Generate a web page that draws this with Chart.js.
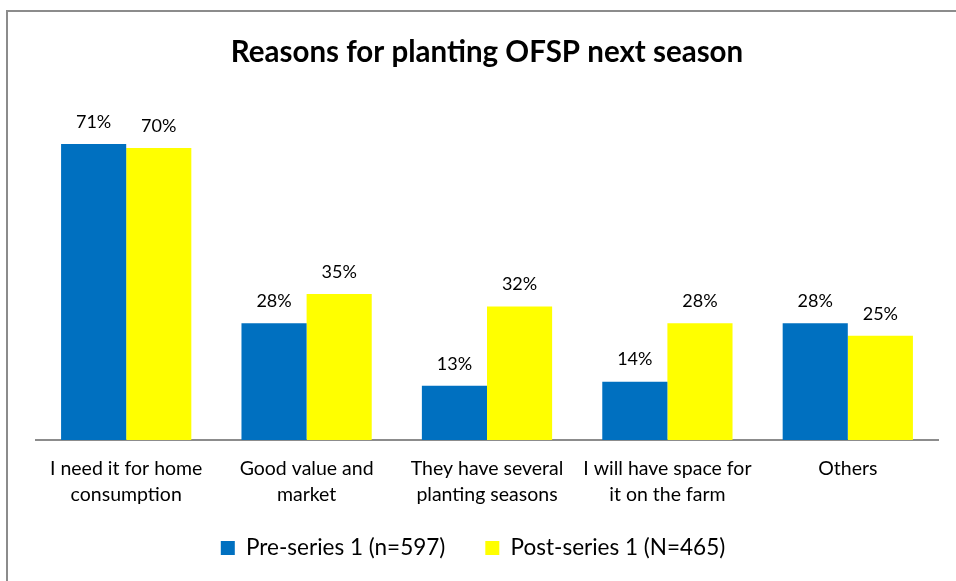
<!DOCTYPE html>
<html>
<head>
<meta charset="utf-8">
<script src="https://cdn.jsdelivr.net/npm/chart.js@4"></script>
<style>
  html, body { margin: 0; padding: 0; background: #ffffff; }
  #wrap { width: 956px; height: 581px; }
</style>
</head>
<body>
<div id="wrap"><canvas id="chart" width="956" height="581"></canvas></div>
<script>
// Survey answers: why respondents will plant OFSP next season (%)
const categories = [
  ["I need it for home", "consumption"],
  ["Good value and", "market"],
  ["They have several", "planting seasons"],
  ["I will have space for", "it on the farm"],
  ["Others"]
];
const preSeries = [71, 28, 13, 14, 28];
const postSeries = [70, 35, 32, 28, 25];
const seriesNames = ["Pre-series 1 (n=597)", "Post-series 1 (N=465)"];

const FONT = "Lato, 'Open Sans', sans-serif";
const LEGEND_GAP = 40;    // horizontal space between legend entries
const LEGEND_FONT = 22.5;
const LEGEND_MID_Y = 548; // vertical centre of the legend row
const LEGEND_SHIFT_X = -14;

// White page with a grey frame along the left and top edges
const framePlugin = {
  id: 'frame',
  beforeDraw(chart) {
    const ctx = chart.ctx;
    ctx.save();
    ctx.fillStyle = '#ffffff';
    ctx.fillRect(0, 0, chart.width, chart.height);
    ctx.strokeStyle = '#8c8c8c';
    ctx.lineWidth = 2;
    ctx.beginPath();
    ctx.moveTo(7, chart.height);
    ctx.lineTo(7, 11);
    ctx.lineTo(chart.width, 11);
    ctx.stroke();
    ctx.restore();
  }
};

// Wide gap between legend entries, with the legend row placed low on the page
const legendSpacing = {
  id: 'legendSpacing',
  beforeInit(chart) {
    const lg = chart.legend;
    if (!lg) return;
    const fit = lg.fit;
    lg.fit = function () {
      fit.call(this);
      this.height = 40;
    };
  },
  afterLayout(chart) {
    const lg = chart.legend;
    if (!lg) return;
    lg.top = LEGEND_MID_Y - LEGEND_FONT / 2 - LEGEND_GAP;
    lg.bottom = chart.height;
    lg.height = lg.bottom - lg.top;
    lg.left += LEGEND_SHIFT_X;
    lg.right += LEGEND_SHIFT_X;
  }
};

// Percentage label above every bar
const valueLabels = {
  id: 'valueLabels',
  afterDatasetsDraw(chart) {
    const ctx = chart.ctx;
    ctx.save();
    ctx.font = '18px ' + FONT;
    ctx.fillStyle = '#000000';
    ctx.textAlign = 'center';
    ctx.textBaseline = 'middle';
    chart.data.datasets.forEach((ds, di) => {
      chart.getDatasetMeta(di).data.forEach((bar, i) => {
        ctx.fillText(ds.data[i] + '%', bar.x, bar.y - 22);
      });
    });
    ctx.restore();
  }
};

new Chart(document.getElementById('chart'), {
  type: 'bar',
  data: {
    labels: categories,
    datasets: [
      { label: seriesNames[0], data: preSeries, backgroundColor: '#0070C0' },
      { label: seriesNames[1], data: postSeries, backgroundColor: '#FFFF00' }
    ]
  },
  options: {
    responsive: false,
    animation: false,
    devicePixelRatio: 1,
    layout: { padding: { left: 36, right: 18, top: 0, bottom: 17 } },
    datasets: { bar: { barPercentage: 1.0, categoryPercentage: 0.722 } },
    scales: {
      x: {
        grid: { display: false, drawTicks: false },
        border: { display: true, color: '#8c8c8c', width: 2 },
        ticks: {
          color: '#000000',
          font: { family: FONT, size: 19.5, lineHeight: 1.333 },
          padding: 16,
          maxRotation: 0,
          autoSkip: false
        }
      },
      y: { display: false, min: 0, max: 80 }
    },
    plugins: {
      title: {
        display: true,
        text: 'Reasons for planting OFSP next season',
        color: '#000000',
        font: { family: FONT, size: 29.5, weight: 'bold', lineHeight: 1.2 },
        padding: { top: 35, bottom: 36 }
      },
      legend: {
        position: 'bottom',
        labels: {
          color: '#000000',
          font: { family: FONT, size: LEGEND_FONT },
          boxWidth: 14,
          boxHeight: 14,
          padding: LEGEND_GAP
        }
      },
      tooltip: { enabled: false }
    }
  },
  plugins: [framePlugin, legendSpacing, valueLabels]
});
</script>
</body>
</html>
